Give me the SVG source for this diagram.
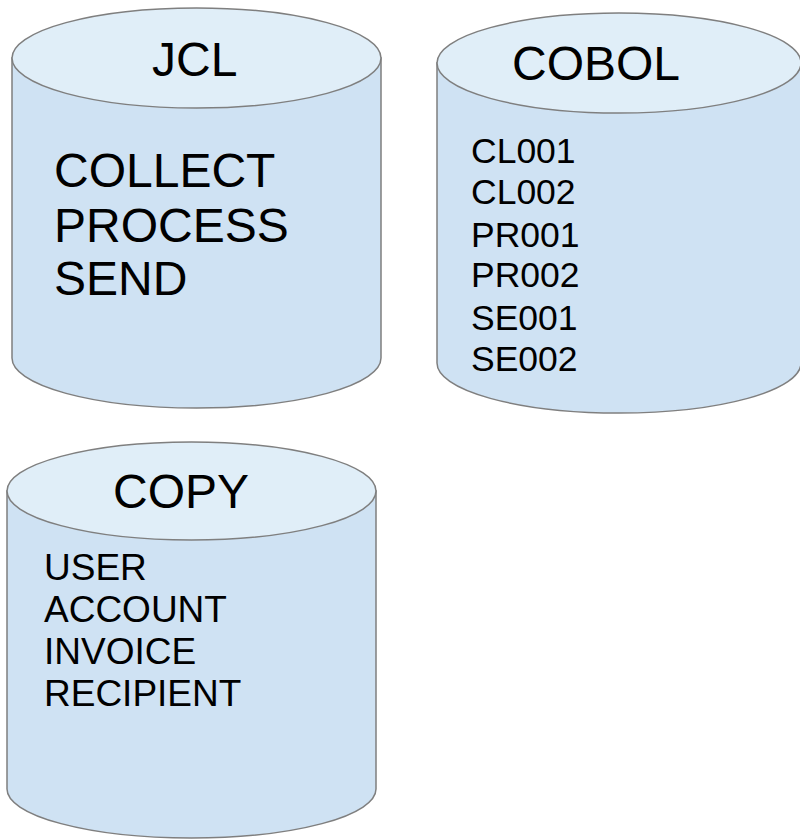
<svg xmlns="http://www.w3.org/2000/svg" width="800" height="839" viewBox="0 0 800 839">
<style>
.body{fill:#cfe2f3;stroke:#7f7f7f;stroke-width:1.5}
.top{fill:#e0eef8;stroke:#7f7f7f;stroke-width:1.5}
text{font-family:"Liberation Sans",Arial,sans-serif;fill:#000}
.t{font-size:48px}
.l{font-size:35.5px}
.m{font-size:37px}
</style>
<rect width="800" height="839" fill="#fff"/>
<g id="jcl">
<path class="body" d="M12,58 L12,358 A184.5,50 0 0 0 381,358 L381,58 Z"/>
<ellipse class="top" cx="196.5" cy="58" rx="184.5" ry="50"/>
<text class="t" x="152" y="76">JCL</text>
<text class="t" x="54" y="187">COLLECT</text>
<text class="t" x="54" y="242">PROCESS</text>
<text class="t" x="54" y="295">SEND</text>
</g>
<g id="cobol">
<path class="body" d="M437,63 L437,363 A182,50 0 0 0 801,363 L801,63 Z"/>
<ellipse class="top" cx="619" cy="63" rx="182" ry="50"/>
<text class="t" x="512" y="80">COBOL</text>
<text class="l" x="471" y="163">CL001</text>
<text class="l" x="471" y="204">CL002</text>
<text class="l" x="471" y="247">PR001</text>
<text class="l" x="471" y="287">PR002</text>
<text class="l" x="471" y="330">SE001</text>
<text class="l" x="471" y="371">SE002</text>
</g>
<g id="copy">
<path class="body" d="M7,491 L7,789 A184.5,49 0 0 0 376,789 L376,491 Z"/>
<ellipse class="top" cx="191.5" cy="491" rx="184.5" ry="49"/>
<text class="t" x="113" y="508">COPY</text>
<text class="m" x="44" y="580">USER</text>
<text class="m" x="44" y="622">ACCOUNT</text>
<text class="m" x="44" y="664">INVOICE</text>
<text class="m" x="44" y="706">RECIPIENT</text>
</g>
<g id="connectors"/>
</svg>
